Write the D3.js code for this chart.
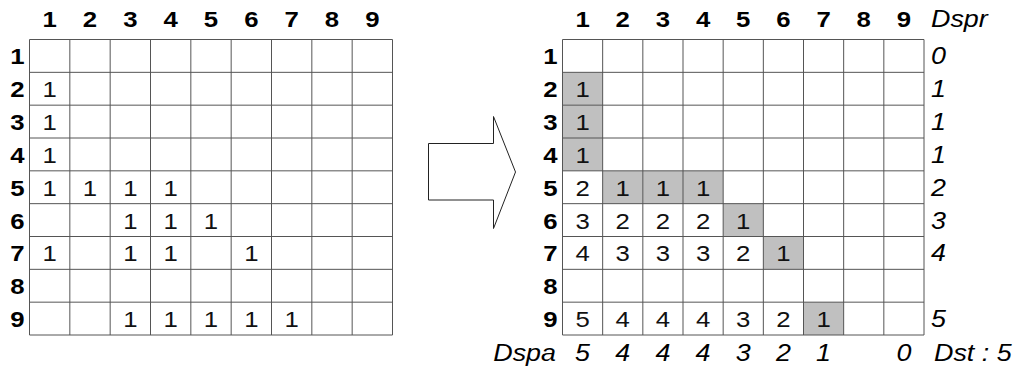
<!DOCTYPE html>
<html><head><meta charset="utf-8">
<script src="https://cdn.jsdelivr.net/npm/d3@7"></script>
<style>
html,body{margin:0;padding:0;background:#fff;}
svg{display:block;}
svg text{font-family:"Liberation Sans",Arial,Helvetica,sans-serif;}
</style>
</head><body>
<svg id="c" width="1025" height="371"></svg>
<script>
// ---- data ----
const rowLabels = ["1","2","3","4","5","6","7","8","9"];
const colLabels = ["1","2","3","4","5","6","7","8","9"];
// left matrix: [row, col, value]
const leftCells = [
  [2,1,1],[3,1,1],[4,1,1],
  [5,1,1],[5,2,1],[5,3,1],[5,4,1],
  [6,3,1],[6,4,1],[6,5,1],
  [7,1,1],[7,3,1],[7,4,1],[7,6,1],
  [9,3,1],[9,4,1],[9,5,1],[9,6,1],[9,7,1]
];
// right matrix: [row, col, value]
const rightCells = [
  [2,1,1],[3,1,1],[4,1,1],
  [5,1,2],[5,2,1],[5,3,1],[5,4,1],
  [6,1,3],[6,2,2],[6,3,2],[6,4,2],[6,5,1],
  [7,1,4],[7,2,3],[7,3,3],[7,4,3],[7,5,2],[7,6,1],
  [9,1,5],[9,2,4],[9,3,4],[9,4,4],[9,5,3],[9,6,2],[9,7,1]
];
// shaded cells in right matrix: [row, col]
const shaded = [[2,1],[3,1],[4,1],[5,2],[5,3],[5,4],[6,5],[7,6],[9,7]];
const dspr = ["0","1","1","1","2","3","4","","5"];
const dspa = ["5","4","4","4","3","2","1","","0"];
const dsprTitle = "Dspr";
const dspaTitle = "Dspa";
const dstLabel = "Dst : 5";

// ---- drawing ----
const svg = d3.select("#c");
const SX = 1.12; // horizontal stretch of lettering in the reference
const y = d3.scaleBand().domain(rowLabels).range([39.5, 335]);
const xL = d3.scaleBand().domain(colLabels).range([29.5, 392.5]);
const xR = d3.scaleBand().domain(colLabels).range([562.5, 924]);
const lineColor = "#555";

function label(sel, fx, fy, style) {
  return sel.attr("transform", (d, i) => `translate(${fx(d, i)},${fy(d, i)}) scale(${SX},1)`)
    .style("font-size", style.size + "px")
    .style("font-weight", style.weight || "normal")
    .style("font-style", style.italic ? "italic" : "normal")
    .attr("text-anchor", style.anchor || "middle")
    .attr("fill", style.fill || "#000");
}
const BOLD = {size: 23, weight: "bold"};
const REG = {size: 23, fill: "#111"};
const ITAL = {size: 24, italic: true, anchor: "start"};

function drawGrid(x, cells, shade) {
  const g = svg.append("g");
  if (shade) {
    g.selectAll("rect.s").data(shade).join("rect")
      .attr("x", d => x(String(d[1]))).attr("y", d => y(String(d[0])))
      .attr("width", x.bandwidth()).attr("height", y.bandwidth())
      .attr("fill", "#c0c0c0");
  }
  const [x0, x1] = x.range(), [y0, y1] = y.range();
  const xs = colLabels.map(c => x(c)).concat([x1]);
  const ys = rowLabels.map(r => y(r)).concat([y1]);
  g.selectAll("line.v").data(xs).join("line")
    .attr("x1", d => d).attr("x2", d => d).attr("y1", y0).attr("y2", y1)
    .attr("stroke", lineColor).attr("stroke-width", 1);
  g.selectAll("line.h").data(ys).join("line")
    .attr("y1", d => d).attr("y2", d => d).attr("x1", x0).attr("x2", x1)
    .attr("stroke", lineColor).attr("stroke-width", 1);
  label(g.selectAll("text.ch").data(colLabels).join("text").text(d => d),
    d => x(d) + x.bandwidth() / 2, () => 26.5, BOLD);
  label(g.selectAll("text.rh").data(rowLabels).join("text").text(d => d),
    () => x0 - 5, d => y(d) + y.bandwidth() / 2 + 8.5, {...BOLD, anchor: "end"});
  label(g.selectAll("text.v").data(cells).join("text").text(d => d[2]),
    d => x(String(d[1])) + x.bandwidth() / 2, d => y(String(d[0])) + y.bandwidth() / 2 + 8.5, REG);
  return g;
}

drawGrid(xL, leftCells, null);
drawGrid(xR, rightCells, shaded);

// italic annotations
const rx = xR.range()[1] + 7;
label(svg.append("text").text(dsprTitle), () => rx, () => 26.5, ITAL);
label(svg.selectAll("text.dspr").data(dspr).join("text").text(d => d),
  () => rx, (d, i) => y(rowLabels[i]) + y.bandwidth() / 2 + 8.5, ITAL);
const by = 361;
label(svg.selectAll("text.dspa").data(dspa).join("text").text(d => d),
  (d, i) => xR(colLabels[i]) + xR.bandwidth() / 2, () => by, {...ITAL, anchor: "middle"});
label(svg.append("text").text(dspaTitle), () => 556, () => by, {...ITAL, anchor: "end"});
label(svg.append("text").text(dstLabel), () => rx + 3, () => by, ITAL);

// arrow
const arrow = [[428.5,143.5],[493.5,143.5],[493.5,116.5],[515.5,172],[493.5,228.5],[493.5,200],[428.5,200]];
svg.append("path").attr("d", d3.line()(arrow) + "Z")
  .attr("fill", "#fff").attr("stroke", "#222").attr("stroke-width", 1);
</script>
</body></html>
